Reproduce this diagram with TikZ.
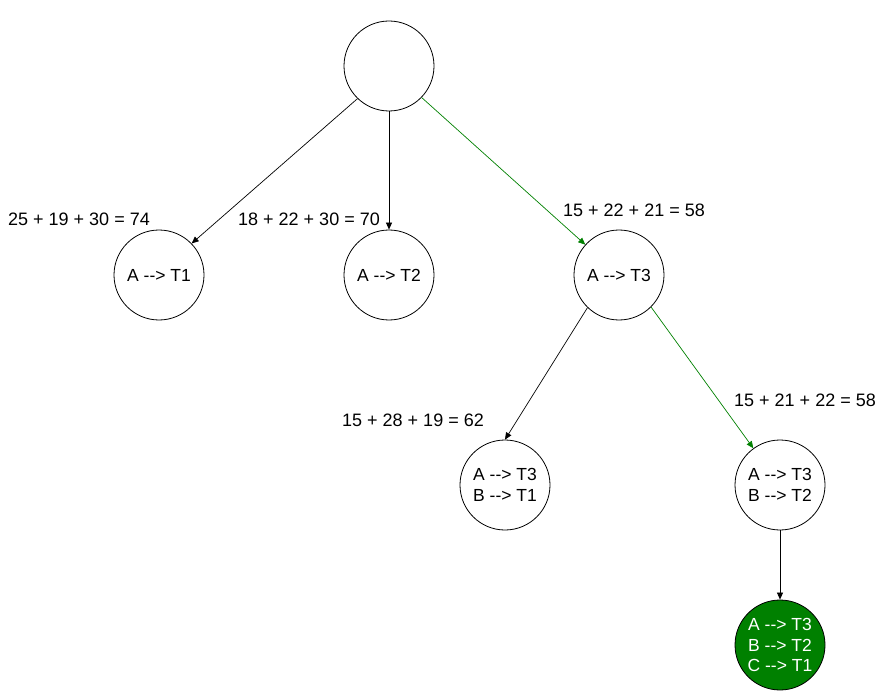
\documentclass[tikz,border=0pt]{standalone}
\usepackage{fontspec}
\newfontfamily\arial{Liberation Sans}
\usepackage{tikz}
\usetikzlibrary{arrows.meta}

\definecolor{okgreen}{RGB}{0,128,0}
\tikzset{
  state/.style={circle,draw,line width=0.8pt,minimum size=90pt,inner sep=0pt,
    align=center,font=\arial\fontsize{17.5}{20.5}\selectfont},
  cost/.style={font=\arial\fontsize{18}{20}\selectfont,inner sep=0pt},
  edge/.style={-{Triangle[length=7pt,width=6pt]},line width=0.7pt},
}

\begin{document}
\begin{tikzpicture}[x=1pt,y=-1pt]
      \useasboundingbox (0,0) rectangle (890,700);

      %第一层
      \node[state] (root) at (389,66) {};

      %第二层
      \node[state] (t1) at (159,275) {A -\kern0pt-\kern0pt> T1};
      \node[state] (t2) at (389,275) {A -\kern0pt-\kern0pt> T2};
      \node[state] (t3) at (619,275) {A -\kern0pt-\kern0pt> T3};

      %第三层
      \node[state] (t3t1) at (505,485) {A -\kern0pt-\kern0pt> T3\\B -\kern0pt-\kern0pt> T1};
      \node[state] (t3t2) at (780,485) {A -\kern0pt-\kern0pt> T3\\B -\kern0pt-\kern0pt> T2};

      %第四层
      \node[state,fill=okgreen,text=white] (best) at (780,645)
        {A -\kern0pt-\kern0pt> T3\\B -\kern0pt-\kern0pt> T2\\C -\kern0pt-\kern0pt> T1};

      \draw[edge] (root.226) -- (t1.44);
      \draw[edge] (root) -- (t2);
      \draw[edge,draw=okgreen] (root.316) -- (t3.138);
      \draw[edge] (t3.226) -- (t3t1.north);
      \draw[edge,draw=okgreen] (t3.315) -- (t3t2.126);
      \draw[edge] (t3t2) -- (best);

      \node[cost] (c1) at (79,219) {25 + 19 + 30 = 74};
      \node[cost] (c2) at (309,219) {18 + 22 + 30 = 70};
      \node[cost] (c3) at (634,210) {15 + 22 + 21 = 58};
      \node[cost] (c4) at (413,420) {15 + 28 + 19 = 62};
      \node[cost] (c5) at (805,400) {15 + 21 + 22 = 58};

\end{tikzpicture}
\end{document}
